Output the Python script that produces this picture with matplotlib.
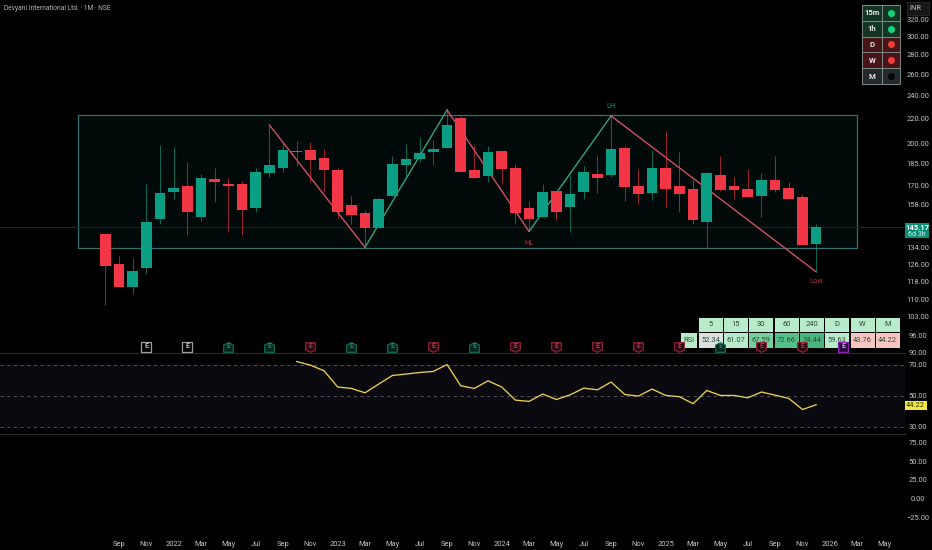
import matplotlib
matplotlib.use("Agg")
import matplotlib.pyplot as plt
from matplotlib.patches import Rectangle
from matplotlib.path import Path
from matplotlib.ticker import NullLocator

plt.rcParams['font.family'] = ['Roboto', 'DejaVu Sans']

W, H = 932, 550

# monthly candles, Aug 2021 .. Dec 2025
opens = [141.1, 125.8, 115.5, 123.9, 149.7, 165.8, 169.5, 150.6, 174.3, 170.8, 171.3, 156.2, 178.6, 181.6,
         194.0, 194.5, 188.6, 180.6, 157.7, 152.9, 144.4, 163.4, 183.7, 188.3, 193.5, 196.2, 219.8, 180.4,
         176.3, 194.0, 182.0, 155.8, 150.6, 166.3, 156.8, 165.6, 177.9, 176.8, 196.0, 169.6, 165.2, 182.0,
         169.6, 167.5, 147.7, 176.8, 169.6, 167.8, 163.4, 173.8, 168.6, 162.6, 135.9]
highs = [141.1, 129.9, 128.8, 170.9, 198.5, 197.2, 186.2, 177.7, 181.6, 174.8, 173.1, 181.6, 214.3, 199.8,
         201.5, 200.6, 195.2, 181.6, 163.4, 154.8, 163.0, 190.3, 199.5, 204.5, 202.3, 226.9, 221.8, 198.5,
         197.7, 194.0, 184.4, 160.5, 171.3, 166.3, 177.0, 183.2, 191.0, 221.8, 197.7, 180.9, 194.7, 209.4,
         193.5, 173.6, 179.2, 190.3, 175.4, 180.9, 178.1, 190.3, 172.5, 164.4, 146.6]
lows = [107.7, 115.4, 112.3, 121.3, 146.8, 161.7, 140.9, 148.6, 159.7, 142.5, 140.9, 153.5, 175.4, 179.2,
        183.2, 172.5, 166.0, 150.0, 146.6, 134.3, 144.4, 163.4, 175.6, 186.2, 184.1, 196.2, 179.2, 175.0,
        172.5, 170.8, 146.8, 142.7, 150.6, 149.0, 142.5, 161.5, 165.4, 175.4, 160.3, 158.5, 160.9, 156.8,
        153.6, 146.8, 134.1, 166.3, 161.5, 162.8, 150.9, 166.0, 161.5, 135.3, 122.3]
closes = [125.2, 115.5, 122.6, 148.0, 165.0, 168.2, 153.8, 175.0, 172.1, 169.9, 154.8, 178.8, 183.9, 194.5,
          193.0, 187.6, 180.4, 153.8, 152.1, 144.4, 161.3, 184.4, 188.1, 192.5, 195.2, 213.9, 179.2, 175.0,
          193.2, 181.3, 153.2, 149.9, 165.8, 153.6, 164.4, 179.0, 175.2, 195.2, 169.0, 164.6, 182.0, 168.0,
          164.4, 148.8, 178.4, 167.1, 167.3, 162.8, 173.8, 167.1, 161.5, 135.3, 145.17]

# rsi starts at Oct 2022 (month 14)
rsi_start = 14
rsi = [71.95, 69.65, 66.0, 55.6, 54.7, 51.9, 57.5, 63.0, 63.9, 64.9, 65.6, 70.0, 56.4, 54.7, 59.6, 55.6,
       47.2, 46.4, 51.1, 47.6, 50.6, 54.9, 53.8, 58.8, 50.8, 49.8, 54.3, 50.2, 49.4, 44.9, 53.4, 50.2,
       50.2, 48.7, 52.4, 50.4, 48.3, 41.2, 44.22]

zig_x = [12, 19, 25, 31, 37, 52]
zig_y = [214.3, 134.3, 226.9, 142.7, 221.8, 122.3]

box_x = [-2, 55]
box_y = [134.1, 222.6]
last_price = 145.17

price_ticks = [320, 300, 280, 260, 240, 220, 200, 185, 170, 158, 134, 126, 118, 110, 103, 96, 90]
rsi_ticks = [70, 50, 30]
lower_ticks = [75, 50, 25, 0, -25]
month_ticks = list(range(1, 58, 2))
month_labels = ['Sep', 'Nov', '2022', 'Mar', 'May', 'Jul', 'Sep', 'Nov', '2023', 'Mar', 'May', 'Jul', 'Sep',
                'Nov', '2024', 'Mar', 'May', 'Jul', 'Sep', 'Nov', '2025', 'Mar', 'May', 'Jul', 'Sep', 'Nov',
                '2026', 'Mar', 'May']

# earnings flags: month, kind
earn_x = [3, 6, 9, 12, 15, 18, 21, 24, 27, 30, 33, 36, 39, 42, 45, 48, 51, 54]
earn_kind = ['n', 'n', 'g', 'g', 'r', 'g', 'g', 'r', 'g', 'r', 'r', 'r', 'r', 'r', 'g', 'r', 'r', 'p']

rsi_heads = ['5', '15', '30', '60', '240', 'D', 'W', 'M']
rsi_vals = ['52.34', '61.07', '67.59', '72.66', '74.44', '59.63', '43.76', '44.22']
rsi_cols = ['#d9e2de', '#b7ebca', '#74d09b', '#55bf8a', '#48b57e', '#b7ebca', '#f6c5c2', '#f6c5c2']

tf_names = ['15m', '1h', 'D', 'W', 'M']
tf_fill = ['#123524', '#123524', '#481418', '#481418', '#24292b']
tf_dot = ['#18d27a', '#18d27a', '#f03a3a', '#f03a3a', '#050505']

RED = '#f23645'
GREEN = '#0a9e84'
TXT = '#c4c4c4'
FS = 5.4


def axes_px(top, bottom, left=0, right=905):
    return fig.add_axes([left / W, 1 - bottom / H, (right - left) / W, (bottom - top) / H])


fig = plt.figure(figsize=(W / 100, H / 100), dpi=100, facecolor='black')

# overlay in pixels for the tables and tags, sits under the chart panes
over = fig.add_axes([0, 0, 1, 1], zorder=0)
over.set_xlim(0, W)
over.set_ylim(H, 0)
over.axis('off')

ax = axes_px(0, 353)
rsi_ax = axes_px(353, 434)
low_ax = axes_px(434, 535)

xlim = (-7.703, 58.5)
for a in (ax, rsi_ax, low_ax):
    a.set_facecolor('none')
    a.set_zorder(2)
    a.set_xlim(*xlim)
    for s in a.spines.values():
        s.set_visible(False)
    a.yaxis.tick_right()
    a.tick_params(axis='both', length=0, colors=TXT, labelsize=FS)
    a.set_xticks([])

# price pane
ax.set_yscale('log')
ax.set_ylim(89.7, 345.3)
ax.add_patch(Rectangle((box_x[0], box_y[0]), box_x[1] - box_x[0], box_y[1] - box_y[0], facecolor='#020909',
                       edgecolor='#33706f', lw=0.9, zorder=1))
ax.axhline(last_price, color='#0e2a26', lw=0.8, zorder=1.5)

for i in range(len(zig_x) - 1):
    col = '#d85468' if zig_y[i + 1] < zig_y[i] else '#36a884'
    ax.plot(zig_x[i:i + 2], zig_y[i:i + 2], color=col, lw=0.95, zorder=2)

xs = list(range(len(opens)))
cols = [GREEN if c >= o else RED for o, c in zip(opens, closes)]
ax.vlines(xs, lows, highs, colors=cols, lw=0.6, alpha=0.75, zorder=3)
ax.bar(xs, [abs(c - o) for o, c in zip(opens, closes)], bottom=[min(o, c) for o, c in zip(opens, closes)],
       width=0.78, color=cols, zorder=4)

ax.set_yticks(price_ticks)
ax.set_yticklabels([f'{t:.2f}' for t in price_ticks])
ax.yaxis.set_minor_locator(NullLocator())
ax.tick_params(axis='y', pad=9.4)
for lab in ax.get_yticklabels():
    lab.set_ha('center')

ax.text(37, 230, 'LH', color='#159a72', fontsize=5.4, ha='center', va='center')
ax.text(31, 136.3, 'HL', color='#b03a48', fontsize=5.4, ha='center', va='center')
ax.text(52, 117.7, 'Low', color='#a8323f', fontsize=5.4, ha='center', va='center')

# earnings flags
flag_up = Path([(-1, -1), (1, -1), (1, 0.5), (0, 1), (-1, 0.5), (-1, -1)], closed=True)
flag_dn = Path([(-1, 1), (1, 1), (1, -0.5), (0, -1), (-1, -0.5), (-1, 1)], closed=True)
flag_sq = Path([(-1, -1), (1, -1), (1, 1), (-1, 1), (-1, -1)], closed=True)
styles = {'n': (flag_sq, '#000000', '#9c9c9c', '#c0c0c0'),
          'g': (flag_up, '#03231c', '#0f6a52', '#1a8a6c'),
          'r': (flag_dn, '#2a0710', '#8c2236', '#b03a48'),
          'p': (flag_sq, '#2a0a3c', '#8f20b0', '#d0a0e0')}
flag_y = 1 - 346.5 / 353
for x, kind in zip(earn_x, earn_kind):
    m, fc, ec, tc = styles[kind]
    ax.scatter([x], [flag_y], marker=m, s=48, facecolor=fc, edgecolor=ec, lw=0.9,
               transform=ax.get_xaxis_transform(), zorder=6, clip_on=False)
    ax.text(x, flag_y, 'E', color=tc, fontsize=5.2, ha='center', va='center', fontweight='bold',
            transform=ax.get_xaxis_transform(), zorder=7)

# rsi pane
rsi_ax.set_ylim(25.5, 77.4)
rsi_ax.axhspan(30, 70, facecolor='#0b0910', zorder=1)
for t in rsi_ticks:
    rsi_ax.axhline(t, color='#5c5c62', lw=0.6, ls=(0, (4, 4)), zorder=2)
rsi_ax.plot(range(rsi_start, rsi_start + len(rsi)), rsi, color='#e6d24e', lw=0.95, zorder=3)
rsi_ax.set_yticks(rsi_ticks)
rsi_ax.set_yticklabels([f'{t:.2f}' for t in rsi_ticks])
rsi_ax.tick_params(axis='y', pad=9.4)
for lab in rsi_ax.get_yticklabels():
    lab.set_ha('center')

# empty lower pane
low_ax.set_ylim(-49.2, 86.7)
low_ax.set_yticks(lower_ticks)
low_ax.set_yticklabels([f'{t:.2f}' if t >= 0 else f'\u2212{-t:.2f}' for t in lower_ticks])
low_ax.tick_params(axis='y', pad=9.4)
for lab in low_ax.get_yticklabels():
    lab.set_ha('center')
low_ax.set_xticks(month_ticks)
low_ax.set_xticklabels(month_labels)
low_ax.tick_params(axis='x', pad=4)

# pane separators
for y in (353, 434.3):
    over.plot([0, 905], [y, y], color='#2b2b2b', lw=0.8)

over.text(4, 8.5, 'Devyani International Ltd. \u00b7 1M \u00b7 NSE', color='#b4b4b4', fontsize=4.8, va='center')

# price tag
over.add_patch(Rectangle((905, 222.7), 24.3, 15.6, facecolor='#0a8f78', edgecolor='none'))
over.text(917, 227, '145.17', color='white', fontsize=5.5, ha='center', va='center', fontweight='bold')
over.text(917, 234.5, '6d 3h', color='#d8efe9', fontsize=5, ha='center', va='center')

# rsi value tag
over.add_patch(Rectangle((905, 401), 21.5, 9, facecolor='#f2e83a', edgecolor='none'))
over.text(915.7, 405.5, '44.22', color='#333300', fontsize=5.3, ha='center', va='center')

# INR box
over.add_patch(Rectangle((907, 2), 22, 13, facecolor='#161616', edgecolor='#2a2a2a', lw=0.6))
over.text(915.5, 9, 'INR', color=TXT, fontsize=5.4, ha='center', va='center')

# trend table, top right
for i, name in enumerate(tf_names):
    top = 4.7 + i * 15.9
    over.add_patch(Rectangle((861.7, top), 20.3, 15.9, facecolor=tf_fill[i], edgecolor='#7e8a86', lw=0.7))
    over.add_patch(Rectangle((882, top), 18.3, 15.9, facecolor=tf_fill[i], edgecolor='#7e8a86', lw=0.7))
    over.text(871.8, top + 7.9, name, color='#e8e8e8', fontsize=5.6, ha='center', va='center', fontweight='bold')
    over.scatter([891.2], [top + 7.9], s=26, color=tf_dot[i], linewidths=0)

# rsi multi timeframe table
col_x = 698.7
for i, head in enumerate(rsi_heads):
    x0 = col_x + i * 25.3
    over.add_patch(Rectangle((x0, 317.7), 24, 14.3, facecolor='#b7ebca', edgecolor='none'))
    over.add_patch(Rectangle((x0, 333), 24, 14.7, facecolor=rsi_cols[i], edgecolor='none'))
    over.text(x0 + 12, 324.8, head, color='#33463c', fontsize=5.4, ha='center', va='center')
    over.text(x0 + 12, 340.3, rsi_vals[i], color='#33463c', fontsize=5.4, ha='center', va='center')
over.add_patch(Rectangle((681, 333), 16.3, 14.7, facecolor='#b7ebca', edgecolor='none'))
over.text(689.2, 340.3, 'RSI', color='#33463c', fontsize=5.4, ha='center', va='center')

fig.savefig('out.png', dpi=100, facecolor='black')
